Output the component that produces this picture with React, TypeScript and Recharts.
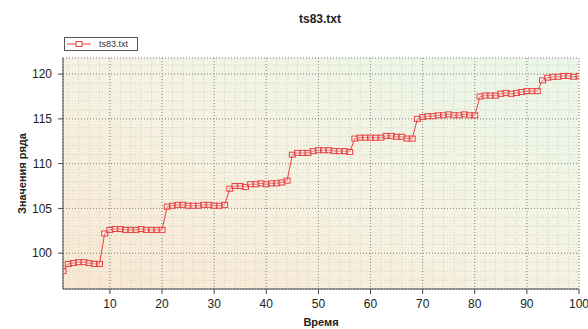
import { LineChart, Line, XAxis, YAxis, CartesianGrid } from "recharts";

const chartTitle = "ts83.txt";
const seriesName = "ts83.txt";
const xTitle = "Время";
const yTitle = "Значения ряда";

// значения ряда, по одному на момент времени 1..100
const values = [
    98.0, 98.8, 98.9, 99.0, 99.0, 98.9, 98.8, 98.8,
    102.2, 102.6, 102.7, 102.7, 102.6, 102.6, 102.6, 102.7, 102.6, 102.6, 102.6, 102.6,
    105.2, 105.3, 105.4, 105.4, 105.3, 105.3, 105.3, 105.4, 105.4, 105.3, 105.3, 105.4,
    107.2, 107.5, 107.5, 107.4, 107.7, 107.7, 107.8, 107.7, 107.8, 107.8, 107.9, 108.1,
    111.0, 111.2, 111.2, 111.2, 111.4, 111.5, 111.5, 111.5, 111.4, 111.4, 111.4, 111.3,
    112.8, 112.9, 112.9, 112.9, 112.9, 112.9, 113.1, 113.1, 113.0, 113.0, 112.8, 112.8,
    115.0, 115.2, 115.3, 115.3, 115.4, 115.4, 115.5, 115.4, 115.4, 115.5, 115.4, 115.4,
    117.5, 117.6, 117.6, 117.6, 117.8, 117.9, 117.8, 117.9, 118.0, 118.1, 118.1, 118.1,
    119.3, 119.6, 119.7, 119.7, 119.8, 119.8, 119.7, 119.8,
];

const xMajorTicks = [10, 20, 30, 40, 50, 60, 70, 80, 90, 100];
const xMinorTicks = [
    2, 4, 6, 8, 10, 12, 14, 16, 18, 20, 22, 24, 26, 28, 30, 32, 34, 36, 38, 40,
    42, 44, 46, 48, 50, 52, 54, 56, 58, 60, 62, 64, 66, 68, 70, 72, 74, 76, 78, 80,
    82, 84, 86, 88, 90, 92, 94, 96, 98, 100,
];
const yMajorTicks = [100, 105, 110, 115, 120];
const yMinorTicks = [
    97, 98, 99, 100, 101, 102, 103, 104, 105, 106, 107, 108, 109, 110,
    111, 112, 113, 114, 115, 116, 117, 118, 119, 120, 121,
];
const xDomain = [1, 100];
const yDomain = [96, 121.8];

const data = values.map((v, i) => ({ t: i + 1, value: v }));

const RED = "#e8403f";
const FONT = "'Liberation Sans', Arial, sans-serif";

const SquareDot = (props: any) => {
    const { cx, cy, index } = props;
    if (cx == null || cy == null) return null;
    return (
        <rect
            key={"d" + index}
            x={cx - 3}
            y={cy - 2.5}
            width={6}
            height={5}
            fill="rgba(255,255,255,0.25)"
            stroke={RED}
            strokeWidth={1}
        />
    );
};

const noLabel = () => "";

export default function App() {
    return (
        <div
            style={{
                position: "absolute",
                left: 0,
                top: 0,
                width: 588,
                height: 329,
                fontFamily: FONT,
                background: "#fff",
            }}
        >
            <div
                style={{
                    position: "absolute",
                    top: 12,
                    left: 62,
                    width: 516,
                    textAlign: "center",
                    fontSize: 12,
                    fontWeight: "bold",
                    color: "#222",
                }}
            >
                {chartTitle}
            </div>

            {/* легенда */}
            <div
                style={{
                    position: "absolute",
                    top: 37,
                    left: 64,
                    width: 72,
                    height: 12,
                    border: "1px solid #555",
                    background: "#fff",
                    display: "flex",
                    alignItems: "center",
                    fontSize: 9,
                    color: "#333",
                    zIndex: 2,
                }}
            >
                <svg width={28} height={12} style={{ display: "block" }}>
                    <line x1={2} y1={6} x2={26} y2={6} stroke={RED} strokeWidth={1} />
                    <rect x={11} y={3.5} width={6} height={5} fill="#fff" stroke={RED} />
                </svg>
                <span style={{ marginLeft: 6 }}>{seriesName}</span>
            </div>

            <LineChart
                width={588}
                height={329}
                data={data}
                margin={{ top: 58, right: 9, bottom: 2, left: 8 }}
            >
                <defs>
                    <linearGradient id="plotBg" x1="0" y1="1" x2="1" y2="0">
                        <stop offset="0%" stopColor="#f9e7d2" />
                        <stop offset="50%" stopColor="#f5f2e2" />
                        <stop offset="100%" stopColor="#e9f7e8" />
                    </linearGradient>
                </defs>

                {/* вспомогательные оси для мелких делений */}
                <XAxis
                    xAxisId="minorB"
                    dataKey="t"
                    type="number"
                    domain={xDomain}
                    allowDataOverflow
                    ticks={xMinorTicks}
                    orientation="bottom"
                    mirror
                    height={0}
                    axisLine={false}
                    tickSize={3}
                    tickLine={{ stroke: "#444" }}
                    tickFormatter={noLabel}
                />
                <XAxis
                    xAxisId="minorT"
                    dataKey="t"
                    type="number"
                    domain={xDomain}
                    allowDataOverflow
                    ticks={xMinorTicks}
                    orientation="top"
                    mirror
                    height={0}
                    axisLine={{ stroke: "#444" }}
                    tickSize={3}
                    tickLine={{ stroke: "#444" }}
                    tickFormatter={noLabel}
                />
                <YAxis
                    yAxisId="minorL"
                    type="number"
                    domain={yDomain}
                    allowDataOverflow
                    ticks={yMinorTicks}
                    orientation="left"
                    mirror
                    width={0}
                    axisLine={false}
                    tickSize={3}
                    tickLine={{ stroke: "#444" }}
                    tickFormatter={noLabel}
                />
                <YAxis
                    yAxisId="minorR"
                    type="number"
                    domain={yDomain}
                    allowDataOverflow
                    ticks={yMinorTicks}
                    orientation="right"
                    mirror
                    width={0}
                    axisLine={{ stroke: "#444" }}
                    tickSize={3}
                    tickLine={{ stroke: "#444" }}
                    tickFormatter={noLabel}
                />

                <CartesianGrid
                    xAxisId="minorB"
                    yAxisId="minorL"
                    fill="url(#plotBg)"
                    fillOpacity={1}
                    stroke="#d2d2c4"
                    strokeDasharray="1 2"
                />
                <CartesianGrid
                    stroke="#8a8a8a"
                    strokeDasharray="1 2"
                />

                <XAxis
                    dataKey="t"
                    type="number"
                    domain={xDomain}
                    allowDataOverflow
                    ticks={xMajorTicks}
                    height={38}
                    tickSize={5}
                    tickMargin={5}
                    axisLine={{ stroke: "#444" }}
                    tickLine={{ stroke: "#444" }}
                    tick={{ fill: "#222", fontSize: 12, fontFamily: FONT }}
                    label={{
                        value: xTitle,
                        position: "insideBottom",
                        offset: 1,
                        fill: "#222",
                        fontSize: 11,
                        fontWeight: "bold",
                        fontFamily: FONT,
                    }}
                />
                <YAxis
                    type="number"
                    domain={yDomain}
                    allowDataOverflow
                    ticks={yMajorTicks}
                    width={55}
                    tickSize={5}
                    tickMargin={6}
                    axisLine={{ stroke: "#444" }}
                    tickLine={{ stroke: "#444" }}
                    tick={{ fill: "#222", fontSize: 12, fontFamily: FONT }}
                    label={{
                        value: yTitle,
                        angle: -90,
                        position: "insideLeft",
                        offset: 14,
                        fill: "#222",
                        fontSize: 11,
                        fontWeight: "bold",
                        fontFamily: FONT,
                        style: { textAnchor: "middle" },
                    }}
                />

                <Line
                    type="linear"
                    dataKey="value"
                    name={seriesName}
                    stroke={RED}
                    strokeWidth={1}
                    dot={SquareDot}
                    activeDot={false}
                    isAnimationActive={false}
                />
            </LineChart>
        </div>
    );
}
